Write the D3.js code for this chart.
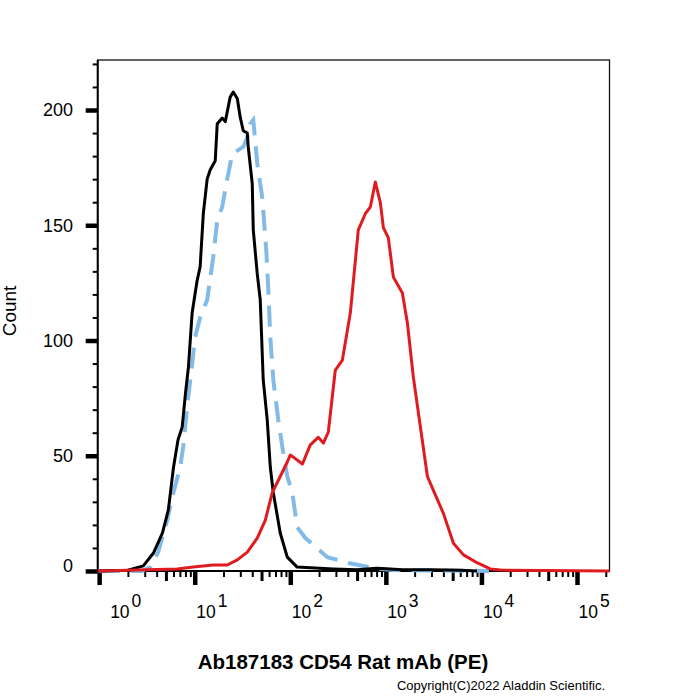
<!DOCTYPE html>
<html lang="en">
<head>
<meta charset="UTF-8">
<title>Ab187183 CD54 Rat mAb (PE)</title>
<script src="https://d3js.org/d3.v7.min.js"></script>
<style>
  body { margin: 0; background: #fff; }
  svg { display: block; font-family: "Liberation Sans", Arial, sans-serif; }
</style>
</head>
<body>
<div id="chart"></div>
<script>
// fluorescence intensity (PE) and event counts
const blackIntensity = [1.0, 2.0, 2.9, 3.7, 4.6, 5.3, 6.0, 6.7, 7.4, 8.0, 8.6, 9.4, 10.6, 11.4, 12.3, 13.5, 14.5, 16.4, 17.2, 19.4, 20.9, 23.5, 25.3, 27.9, 29.9, 32.2, 35.5, 36.3, 40.0, 41.0, 45.1, 48.5, 52.1, 57.4, 61.8, 66.4, 78.5, 93, 118, 282, 500, 800, 1500, 3000, 6000, 9000];
const blackCount = [0, 0.3, 2.2, 7.8, 16.5, 26.5, 45, 57, 62.5, 77, 88.5, 112, 126, 132, 155, 170, 174, 178, 194, 196.5, 195, 205.6, 207.8, 205, 197, 191, 190, 184, 168, 148, 129, 117.6, 83, 65.5, 45, 34, 16.5, 6, 1.7, 0.9, 0.5, 1.2, 0.5, 0.5, 0.3, 0];

const blueIntensity = [1.0, 2.8, 3.42, 4.15, 5.15, 5.81, 7.05, 7.58, 8.55, 9.42, 10.1, 11.4, 13.5, 15.6, 17.2, 19.4, 21.9, 24.7, 32.2, 35.5, 38.1, 41.0, 45.1, 50.9, 56.1, 58.9, 61.8, 66.4, 74.9, 82.4, 93, 105, 118, 144, 244, 405, 740, 1200, 12000];
const blueCount = [0, 0, 1.7, 8.2, 22, 32, 45, 54, 75.5, 90, 101.5, 110, 117.6, 136, 152, 158, 170, 181, 184, 188, 194, 195.7, 177, 162, 139, 122, 101.5, 83, 65.5, 54, 41, 34, 19, 14.3, 6, 3.5, 1.3, 0.4, 0];

const redIntensity = [0.97, 6.56, 9.64, 15.6, 21.9, 27.9, 35.5, 45.1, 54.7, 64.8, 78.5, 93, 100, 107, 134, 162, 196, 222, 250, 296, 351, 425, 515, 610, 689, 776, 876, 942, 1062, 1199, 1489, 1680, 1941, 2298, 2723, 3143, 4000, 5090, 6490, 9080, 12400, 15800, 219000];
const redCount = [0, 0.9, 1.7, 2.6, 2.6, 4.8, 8.2, 14.3, 22, 34, 41, 47.3, 50.3, 49.5, 46.4, 54.7, 58, 55.5, 60.3, 87.2, 91.5, 112, 148, 155, 158, 168.8, 159.7, 149, 144.5, 127.5, 120.6, 107.6, 84, 62.5, 41, 35, 25, 12, 7, 3.5, 0.9, 0.4, 0];

const xDecades = [0, 1, 2, 3, 4, 5];
const yMajorTicks = [0, 50, 100, 150, 200];
const xTitle = "Ab187183 CD54 Rat mAb (PE)";
const yTitle = "Count";
const copyright = "Copyright(C)2022 Aladdin Scientific.";

const W = 700, H = 700;
const plotLeft = 97.7, plotRight = 609.5, plotTop = 60, plotBottom = 571;

const svg = d3.select("#chart").append("svg")
  .attr("width", W)
  .attr("height", H);

const x = d3.scaleLog().domain([Math.pow(10, -0.015), Math.pow(10, 5.34)]).range([plotLeft, plotRight]);
const y = d3.scaleLinear().domain([0, 221.7]).range([plotBottom, plotTop]);

// tick values for the log axis
const xMajor = xDecades.map(d => Math.pow(10, d));
const xMedium = xDecades.map(d => 5 * Math.pow(10, d)).filter(v => v <= x.domain()[1]);
const xMinor = [];
xDecades.forEach(d => {
  [2, 3, 4, 6, 7, 8, 9].forEach(m => {
    const v = m * Math.pow(10, d);
    if (v <= x.domain()[1]) xMinor.push(v);
  });
});
const yMinor = d3.range(10, 221, 10).filter(v => v % 50 !== 0);

// frame
svg.append("rect")
  .attr("x", plotLeft).attr("y", plotTop)
  .attr("width", plotRight - plotLeft).attr("height", plotBottom - plotTop)
  .attr("fill", "none").attr("stroke", "#111").attr("stroke-width", 1.3);

function tickAxis(axis, values, size, width, transform) {
  const g = svg.append("g")
    .attr("transform", transform)
    .call(axis.tickValues(values).tickSize(size).tickFormat(""));
  g.select(".domain").remove();
  g.selectAll(".tick line").attr("stroke", "#000").attr("stroke-width", width);
  return g;
}

tickAxis(d3.axisBottom(x), xMinor, 6, 2, `translate(0,${plotBottom})`);
tickAxis(d3.axisBottom(x), xMedium, 10, 3, `translate(0,${plotBottom})`);
tickAxis(d3.axisBottom(x), xMajor, 14, 4.5, `translate(0,${plotBottom})`);
tickAxis(d3.axisLeft(y), yMinor, 5, 2, `translate(${plotLeft},0)`);
tickAxis(d3.axisLeft(y), yMajorTicks, 12, 4.5, `translate(${plotLeft},0)`);

// axis lines
svg.append("line").attr("x1", plotLeft).attr("x2", plotLeft).attr("y1", plotTop).attr("y2", plotBottom + 1)
  .attr("stroke", "#000").attr("stroke-width", 2);
svg.append("line").attr("x1", plotLeft - 1).attr("x2", plotRight).attr("y1", plotBottom).attr("y2", plotBottom)
  .attr("stroke", "#000").attr("stroke-width", 2);

// y tick labels
svg.append("g").selectAll("text")
  .data(yMajorTicks)
  .join("text")
  .attr("x", 73)
  .attr("y", d => d === 0 ? y(d) - 5 : y(d))
  .attr("dy", "0.35em")
  .attr("text-anchor", "end")
  .attr("font-size", 18)
  .attr("fill", "#000")
  .text(d => d);

// x tick labels 10^n
const xl = svg.append("g").selectAll("text")
  .data(xDecades)
  .join("text")
  .attr("x", d => x(Math.pow(10, d)) + (d === 0 ? 11 : 1.5))
  .attr("y", 618)
  .attr("font-size", 17.5)
  .attr("fill", "#000");
xl.append("tspan").text("10");
xl.append("tspan").attr("dx", 2).attr("dy", -11).text(d => d);

// histograms
const line = d3.line()
  .x(d => x(d[0]))
  .y(d => y(d[1]));

svg.append("path")
  .datum(d3.zip(blueIntensity, blueCount))
  .attr("d", line)
  .attr("fill", "none")
  .attr("stroke", "#84bbe6")
  .attr("stroke-width", 4)
  .attr("stroke-dasharray", "21,11");

svg.append("path")
  .datum(d3.zip(blackIntensity, blackCount))
  .attr("d", line)
  .attr("fill", "none")
  .attr("stroke", "#000")
  .attr("stroke-width", 3)
  .attr("stroke-linejoin", "round");

svg.append("path")
  .datum(d3.zip(redIntensity, redCount))
  .attr("d", line)
  .attr("fill", "none")
  .attr("stroke", "#e01b1f")
  .attr("stroke-width", 3)
  .attr("stroke-linejoin", "round");

// titles
svg.append("text")
  .attr("x", 343).attr("y", 669)
  .attr("text-anchor", "middle")
  .attr("font-size", 20.5)
  .attr("font-weight", "bold")
  .attr("fill", "#000")
  .text(xTitle);

svg.append("text")
  .attr("transform", "translate(16,311) rotate(-90)")
  .attr("text-anchor", "middle")
  .attr("font-size", 19)
  .attr("fill", "#000")
  .text(yTitle);

svg.append("text")
  .attr("x", 605).attr("y", 690)
  .attr("text-anchor", "end")
  .attr("font-size", 13)
  .attr("fill", "#000")
  .text(copyright);
</script>
</body>
</html>
